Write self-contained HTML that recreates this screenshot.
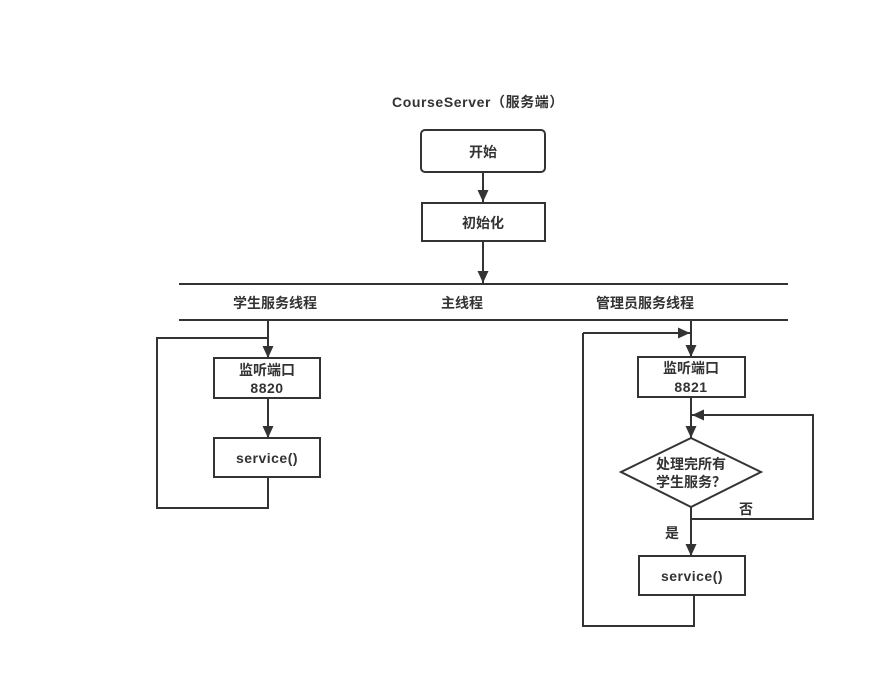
<!DOCTYPE html>
<html><head><meta charset="utf-8"><style>
html,body{margin:0;padding:0;background:#fff;}
svg{display:block;}
text{font-family:"Liberation Sans","Noto Sans CJK SC",sans-serif;font-weight:bold;fill:#333;font-size:14px;text-anchor:middle;}
</style></head><body>
<svg width="888" height="689" viewBox="0 0 888 689">
<defs><marker id="a" markerWidth="12" markerHeight="12" refX="12" refY="5.5" orient="auto" markerUnits="userSpaceOnUse"><path d="M0,0 L12,5.5 L0,11 z" fill="#333"/></marker></defs>
<g stroke="#333" stroke-width="2" fill="none">
<rect x="421" y="130" width="124" height="42" rx="4" fill="#fff"/>
<rect x="422" y="203" width="123" height="38" fill="#fff"/>
<line x1="483" y1="172" x2="483" y2="202" marker-end="url(#a)"/>
<line x1="483" y1="241" x2="483" y2="283" marker-end="url(#a)"/>
<line x1="179" y1="284" x2="788" y2="284"/>
<line x1="179" y1="320" x2="788" y2="320"/>
<line x1="268" y1="320" x2="268" y2="358" marker-end="url(#a)"/>
<rect x="214" y="358" width="106" height="40" fill="#fff"/>
<line x1="268" y1="398" x2="268" y2="438" marker-end="url(#a)"/>
<rect x="214" y="438" width="106" height="39" fill="#fff"/>
<polyline points="268,477 268,508 157,508 157,338 268,338"/>
<line x1="691" y1="320" x2="691" y2="357" marker-end="url(#a)"/>
<polyline points="583,333 690,333" marker-end="url(#a)"/>
<rect x="638" y="357" width="107" height="40" fill="#fff"/>
<line x1="691" y1="397" x2="691" y2="438" marker-end="url(#a)"/>
<polygon points="691,438 761,472 691,507 621,472" fill="#fff"/>
<line x1="691" y1="507" x2="691" y2="556" marker-end="url(#a)"/>
<polyline points="691,519 813,519 813,415 692,415" marker-end="url(#a)"/>
<rect x="639" y="556" width="106" height="39" fill="#fff"/>
<polyline points="694,595 694,626 583,626 583,333"/>
</g>
<text x="478" y="107" font-size="15.5" letter-spacing="0.6">CourseServer（服务端）</text>
<text x="483" y="157" font-size="15">开始</text>
<text x="483" y="228" font-size="15">初始化</text>
<text x="275" y="308">学生服务线程</text>
<text x="462" y="308">主线程</text>
<text x="645" y="308">管理员服务线程</text>
<text x="267" y="375">监听端口</text>
<text x="267" y="393" letter-spacing="0.5">8820</text>
<text x="267" y="463" letter-spacing="0.5">service()</text>
<text x="691" y="373">监听端口</text>
<text x="691" y="392" letter-spacing="0.5">8821</text>
<text x="691" y="469">处理完所有</text>
<text x="691" y="487">学生服务？</text>
<text x="746" y="514" font-size="13">否</text>
<text x="672" y="538" font-size="13">是</text>
<text x="692" y="581" letter-spacing="0.5">service()</text>
</svg>
</body></html>
